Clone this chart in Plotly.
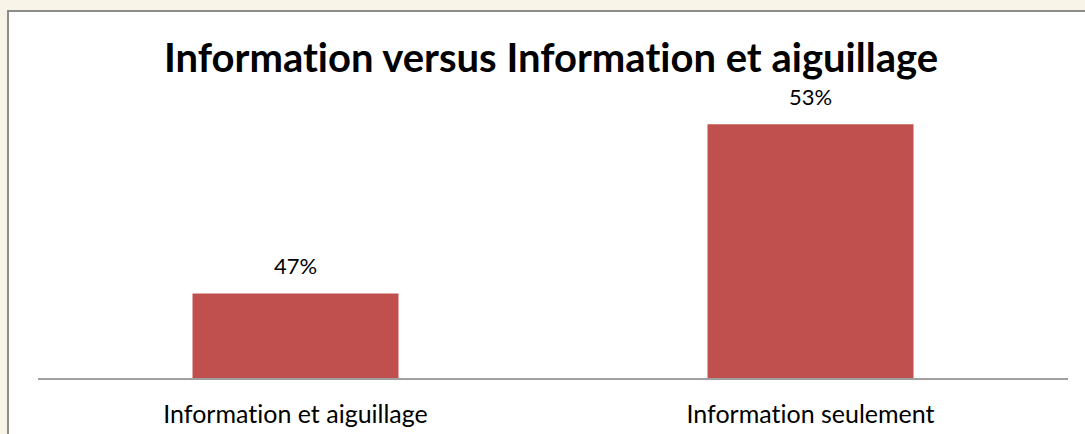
import plotly.graph_objects as go

categories = ["Information et aiguillage", "Information seulement"]
values = [0.47, 0.53]
title_text = "Information versus Information et aiguillage"

BAR_COLOR = "#C0504D"
FONT = "Lato"


def no_lig(s):
    # zero-width non-joiner keeps "t" and "i" apart (no Lato ligature)
    return s.replace("ti", "t\u200ci")


fig = go.Figure()
fig.add_trace(go.Bar(
    x=categories, y=values,
    marker=dict(color=BAR_COLOR, line=dict(width=0)),
    width=0.4,
    hoverinfo="skip",
))

for c, v in zip(categories, values):
    fig.add_annotation(
        x=c, y=v, text=f"{round(v*100)}%", showarrow=False,
        yanchor="bottom", yshift=12,
        font=dict(family=FONT, size=22, color="#000000"),
    )

# white panel with gray border
fig.add_shape(
    type="rect", xref="x domain", yref="y domain",
    x0=(8 - 38) / 1030, x1=(1095 - 38) / 1030,
    y0=(378 - 445) / 282, y1=(378 - 11) / 282,
    fillcolor="#FFFFFF", line=dict(color="#8C8C8C", width=2),
    layer="below",
)

fig.update_layout(
    width=1085, height=434,
    margin=dict(l=38, r=17, t=96, b=56, autoexpand=False),
    paper_bgcolor="#F8F5E8",
    plot_bgcolor="rgba(0,0,0,0)",
    showlegend=False,
    bargap=0.6,
    title=dict(
        text=f"<b>{no_lig(title_text)}</b>",
        x=551 / 1085, xanchor="center",
        y=1 - 58 / 434, yanchor="middle",
        font=dict(family=FONT, size=40, color="#000000"),
    ),
    xaxis=dict(
        showline=True, linecolor="#A0A0A0", linewidth=2,
        ticks="", ticklabelstandoff=13, automargin=False,
        tickmode="array", tickvals=categories,
        ticktext=[no_lig(c) for c in categories],
        tickfont=dict(family=FONT, size=25, color="#000000"),
        showgrid=False, zeroline=False,
    ),
    yaxis=dict(
        range=[0.44, 0.54], visible=False, showgrid=False, zeroline=False,
        automargin=False,
    ),
)

fig.write_html("out.html")
